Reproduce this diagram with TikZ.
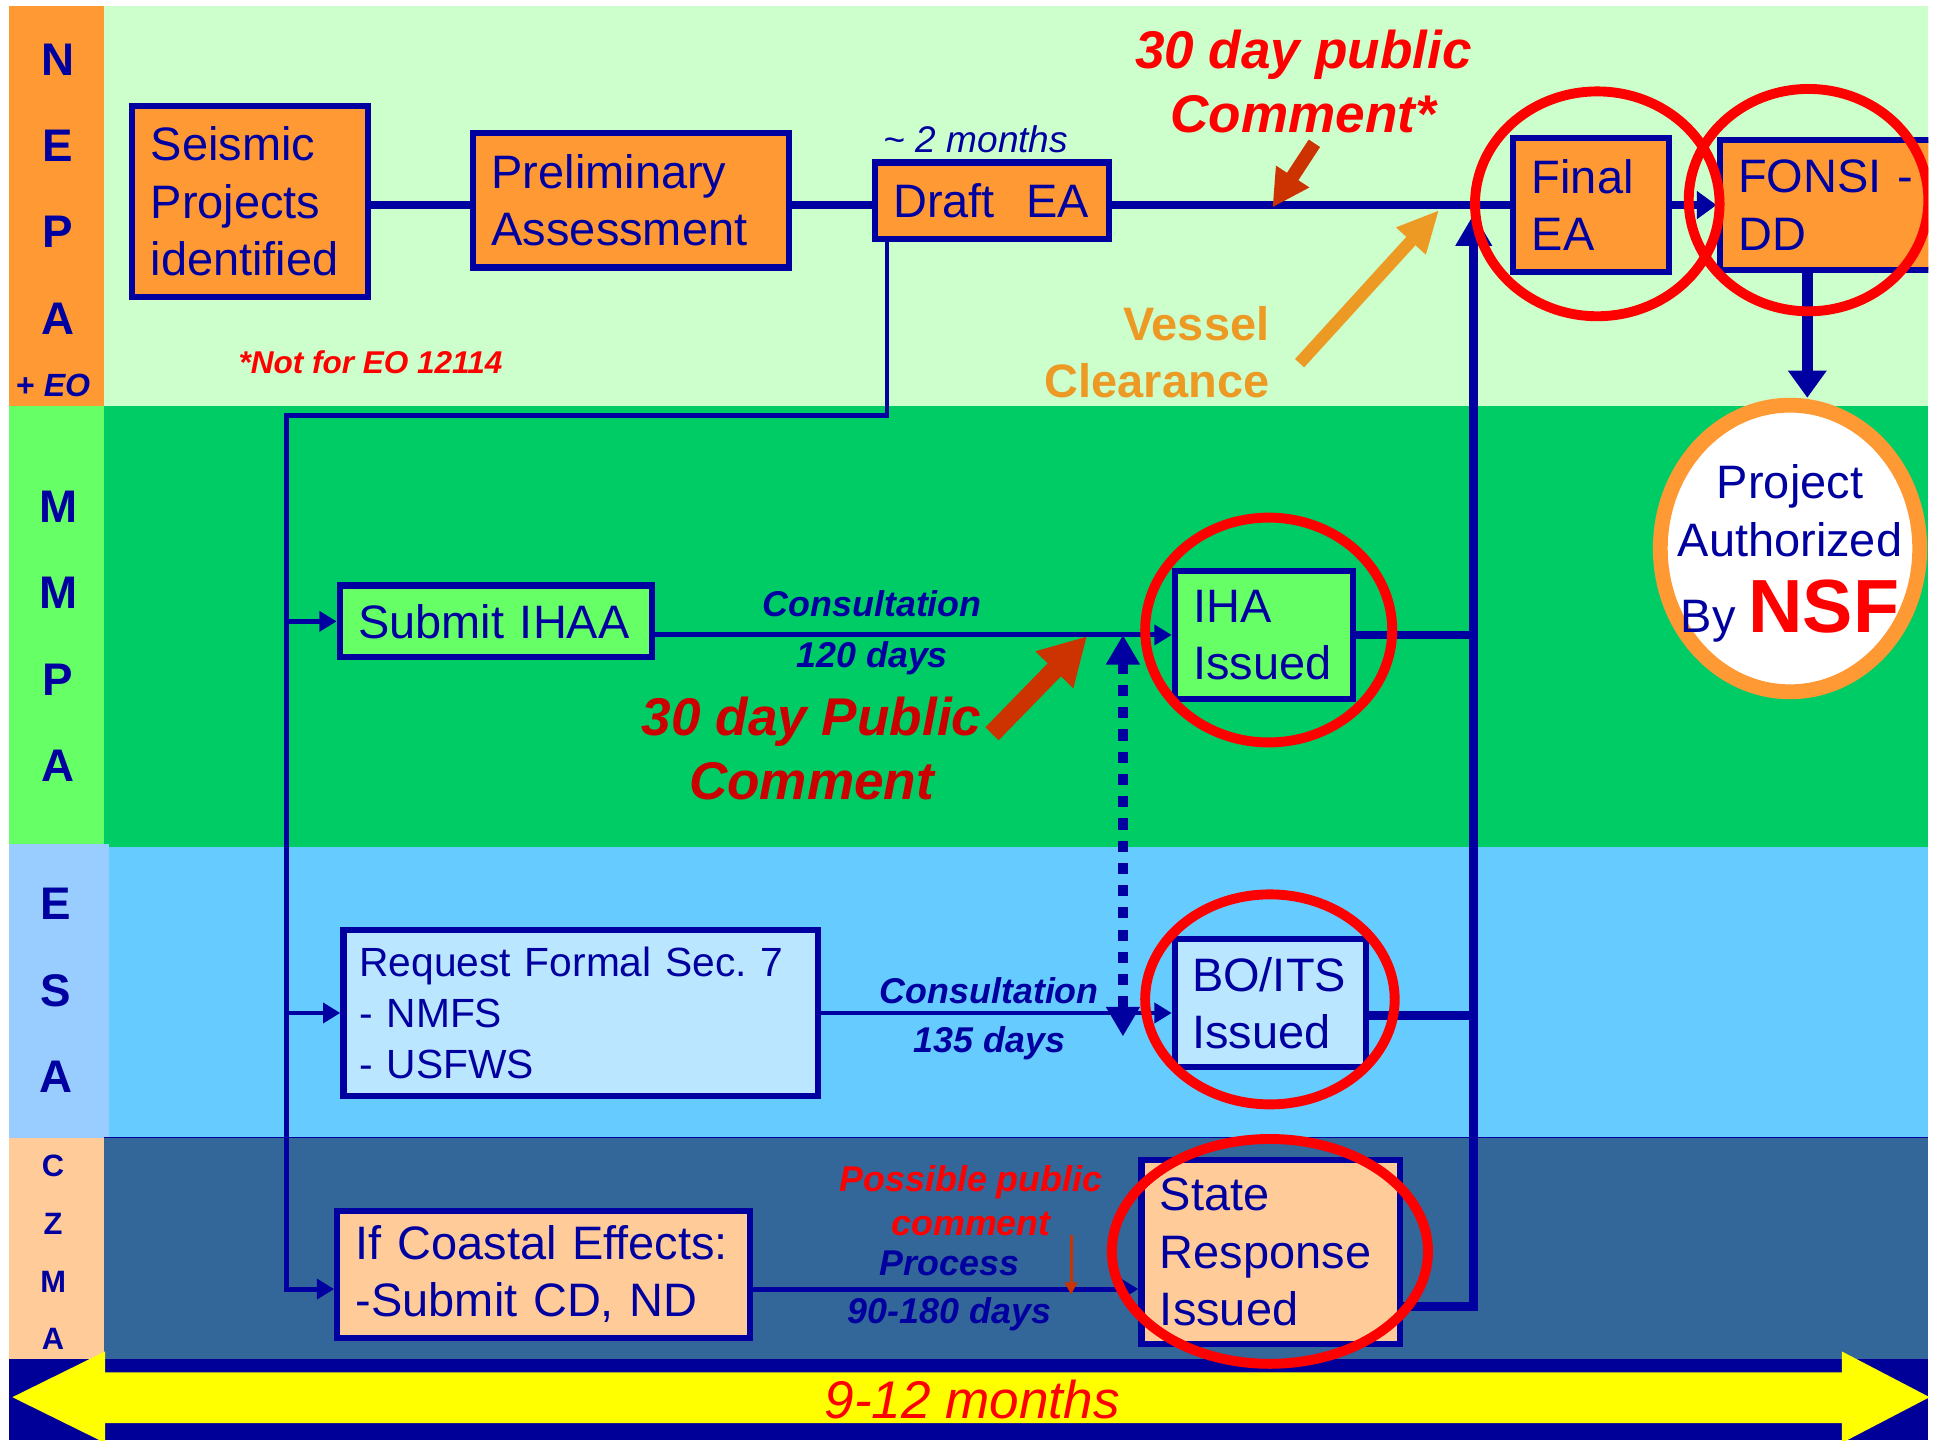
\documentclass[tikz,border=0pt]{standalone}
\usepackage{fontspec}
\setmainfont{Liberation Sans}
\usetikzlibrary{arrows.meta,shapes.geometric}
\definecolor{navy}{HTML}{0000A0}
\definecolor{nepabg}{HTML}{CCFFCC}
\definecolor{nepalab}{HTML}{FF9933}
\definecolor{mmpabg}{HTML}{00CC66}
\definecolor{mmpalab}{HTML}{66FF66}
\definecolor{esabg}{HTML}{66CCFF}
\definecolor{esalab}{HTML}{99CCFF}
\definecolor{czmabg}{HTML}{336699}
\definecolor{czmalab}{HTML}{FFCC99}
\definecolor{nepabox}{HTML}{FF9933}
\definecolor{mmpabox}{HTML}{66FF66}
\definecolor{esabox}{HTML}{BBE6FF}
\definecolor{czmabox}{HTML}{FFCC99}
\definecolor{ringred}{HTML}{FF0000}
\definecolor{darkred}{HTML}{CC0000}
\definecolor{calloutred}{HTML}{CC3300}
\definecolor{vesselorange}{HTML}{EC9A24}
\definecolor{ringorange}{HTML}{FF9933}
\definecolor{bandblue}{HTML}{000099}
\definecolor{bandyellow}{HTML}{FFFF00}

\begin{document}
\begin{tikzpicture}[x=1pt,y=-1pt]
\tikzstyle{stage}=[draw=navy, line width=5pt, text=navy, align=left, inner xsep=15pt, inner ysep=0pt, font=\fontsize{38}{46.5}\selectfont]
\tikzstyle{lane}=[text=navy, align=center, font=\bfseries\fontsize{37}{70}\selectfont]
\tikzstyle{link}=[navy, line width=4pt]
\tikzstyle{arrowed}=[-{Triangle[length=14pt,width=16pt]}]
\tikzstyle{trunk}=[navy, line width=6pt]
\tikzstyle{spine}=[navy, line width=7pt]
\tikzstyle{days}=[text=navy, inner sep=3pt, font=\bfseries\itshape\fontsize{29}{35}\selectfont]
\tikzstyle{callout}=[align=center, font=\bfseries\itshape\fontsize{43}{52}\selectfont]
\tikzstyle{ring}=[ringred, line width=8pt]

\useasboundingbox (0,0) rectangle (1568,1166);
\fill[white] (0,0) rectangle (1568,1166);
\clip (0,0) rectangle (1561,1166);
\fill[nepabg] (84,5) rectangle (1561,329);
\fill[mmpabg] (84,329) rectangle (1561,686);
\fill[esabg] (84,686) rectangle (1561,921);
\fill[czmabg] (84,921) rectangle (1561,1100);
\fill[nepalab] (7,5) rectangle (84,329);
\fill[mmpalab] (7,329) rectangle (84,683);
\fill[esalab] (7,683) rectangle (88,921);
\fill[czmalab] (7,921) rectangle (84,1104);
\draw[navy, line width=1pt] (84,921) -- (1561,921);
\fill[bandblue] (7,1100) rectangle (1561,1166);
\fill[bandyellow] (10,1131) -- (85,1094) -- (85,1111) -- (1491,1111) -- (1491,1094) -- (1562,1131)
  -- (1491,1168) -- (1491,1152) -- (85,1152) -- (85,1168) -- cycle;

\draw (47,153) node[lane] (nepa) {N\\E\\P\\A};
\draw (43,312) node[lane, font=\bfseries\fontsize{26}{30}\selectfont] (eo) {+ \itshape EO};
\draw (47,515) node[lane] (mmpa) {M\\M\\P\\A};
\draw (45,802) node[lane] (esa) {E\\S\\A};
\draw (43,1014) node[lane, font=\bfseries\fontsize{25}{46.7}\selectfont] (czma) {C\\Z\\M\\A};

\draw (202.5,163) node[stage, fill=nepabox, text width=161pt, minimum height=155pt] (seis) {Seismic\\Projects\\identified};
\draw (511,162) node[stage, fill=nepabox, text width=226pt, minimum height=109pt] (prelim) {Preliminary\\Assessment};
\draw (803,162.5) node[stage, fill=nepabox, text width=160pt, minimum height=62pt] (draft) {Draft~~EA};
\draw (1288,166) node[stage, fill=nepabox, text width=96pt, minimum height=109pt] (final) {Final\\EA};
\draw (1492,166) node[stage, fill=nepabox, text width=170pt, minimum height=105pt] (fonsi) {FONSI -\\DD};
\draw (401.5,503) node[stage, fill=mmpabox, text width=223pt, minimum height=58pt] (ihaa) {Submit IHAA};
\draw (1023,514) node[stage, fill=mmpabox, text width=114pt, minimum height=104pt] (iha) {IHA\\Issued};
\draw (470,820) node[stage, fill=esabox, text width=358pt, inner xsep=13pt, minimum height=135pt, font=\fontsize{33}{41}\selectfont] (req) {Request Formal Sec.\ 7\\- NMFS\\- USFWS};
\draw (1028.5,812) node[stage, fill=esabox, text width=127pt, inner xsep=14pt, minimum height=104pt] (bo) {BO/ITS\\Issued};
\draw (440,1031.5) node[stage, fill=czmabox, text width=304pt, minimum height=103pt] (coast) {If Coastal Effects:\\-Submit CD, ND};
\draw (1028.5,1013.5) node[stage, fill=czmabox, text width=179pt, minimum height=149pt] (state) {State\\Response\\Issued};
\draw (1449,444) node[ellipse, draw=ringorange, fill=white, line width=12pt, minimum width=210pt, minimum height=232pt, inner sep=0pt] (auth) {};
\draw ([yshift=-4pt]auth.center) node[align=center, text=navy, font=\fontsize{38}{47}\selectfont] (authtext) {Project\\Authorized\\[14pt]By {\color{ringred}\bfseries\fontsize{61}{50}\selectfont NSF}};

\draw (790,113) node[text=navy, font=\itshape\fontsize{30}{36}\selectfont] (twomonths) {\textasciitilde\ 2 months};
\draw (300,293) node[text=ringred, font=\bfseries\itshape\fontsize{25.5}{30}\selectfont] (eonote) {*Not for EO 12114};
\draw (1055,66) node[callout, text=ringred] (pubtop) {30 day public\\Comment*};
\draw (1031,285) node[anchor=east, align=right, text=vesselorange, font=\bfseries\fontsize{38}{46}\selectfont] (vessel) {Vessel\\Clearance};
\draw (657,606) node[callout, text=darkred] (pubmid) {30 day Public\\Comment};
\draw (786,972) node[align=center, text=ringred, font=\bfseries\itshape\fontsize{29}{36}\selectfont] (possible) {Possible public\\comment};
\draw (787,1133) node[text=ringred, font=\itshape\fontsize{43}{50}\selectfont] (span) {9-12 months};

\coordinate (top) at (1193,173);
\coordinate (authtop) at (1463,322);
\coordinate (drop) at (718,336);
\coordinate (bend) at (232,336);
\coordinate (dtop) at (909,514);
\coordinate (dbot) at (909,839);
\coordinate (c1a) at (1064,116);
\coordinate (c1b) at (1030,168);
\coordinate (c2a) at (803,594);
\coordinate (c2b) at (880,515);
\coordinate (c3a) at (1052,294);
\coordinate (c3b) at (1165,170);
\coordinate (pc1) at (867,1000);
\coordinate (pc2) at (867,1048);

\draw[trunk] (seis.east |- final) -- (prelim.west |- final) (prelim.east |- final) -- (draft.west |- final) (draft.east |- final) -- (final.west);
\draw[trunk, -{Triangle[length=16pt,width=22pt]}] (final.east) -- (fonsi.west);
\draw[spine, line width=8.5pt, -{Triangle[length=22pt,width=30pt]}] (fonsi.south -| authtop) -- (authtop);
\draw[spine, -{Triangle[length=26pt,width=28pt]}] ([yshift=-44pt]state.east) -| (top);
\draw[spine] (iha.east) -- (iha.east -| top);
\draw[spine] ([yshift=-10pt]bo.east) -- ([yshift=-10pt]bo.east -| top);

\draw[link, arrowed] (draft.south -| drop) -- (drop) -- (bend) |- ([yshift=-12pt]coast.west);
\draw[link, arrowed] (bend |- ihaa.west) -- (ihaa.west);
\draw[link, arrowed] (bend |- req.west) -- (req.west);

\draw[link, arrowed] (ihaa.east |- iha.west) -- node[pos=.42, above=10pt, days] {Consultation} node[pos=.42, below=0pt, days] {120 days} (iha.west);
\draw[link, arrowed] (req.east) -- node[pos=.48, above=2pt, days] {Consultation} node[pos=.48, below=6pt, days] {135 days} (req.east -| bo.west);
\draw[link, arrowed] ([yshift=-12pt]coast.east) -- node[pos=.51, above=6pt, days] {Process} node[pos=.51, below=2pt, days] {90-180 days} ([yshift=-12pt]coast.east -| state.west);

\draw[navy, line width=8pt, dash pattern=on 9pt off 9pt, {Triangle[length=24pt,width=26pt]}-{Triangle[length=24pt,width=26pt]}] (dtop) -- (dbot);

\draw[calloutred, line width=11pt, -{Triangle[length=30pt,width=30pt]}] (c1a) -- (c1b);
\draw[calloutred, line width=15pt, -{Triangle[length=38pt,width=40pt]}] (c2a) -- (c2b);
\draw[vesselorange, line width=10pt, -{Triangle[length=34pt,width=30pt]}] (c3a) -- (c3b);
\draw[calloutred, line width=2.5pt, -{Triangle[length=10pt,width=10pt]}] (pc1) -- (pc2);

\draw[ring] (1293,165) ellipse [x radius=99pt, y radius=91pt];
\draw[ring] (1464,162) ellipse [x radius=97pt, y radius=90pt];
\draw[ring] (1027,510) ellipse [x radius=100pt, y radius=91pt];
\draw[ring] (1028,809) ellipse [x radius=101pt, y radius=85pt];
\draw[ring] (1028,1013) ellipse [x radius=128pt, y radius=91pt];
\end{tikzpicture}
\end{document}
